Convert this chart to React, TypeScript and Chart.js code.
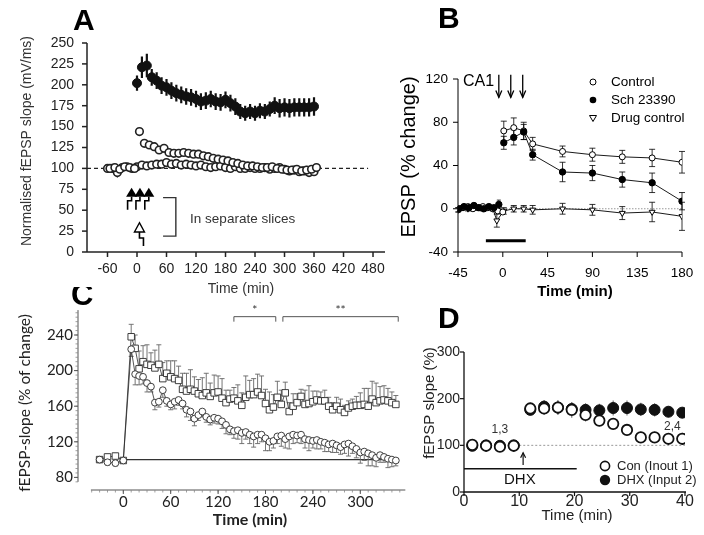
import React, { useEffect, useRef } from "react";
import { Chart, registerables } from "chart.js";

Chart.register(...registerables);

const CW = 704;
const CH = 535;
const ARIAL = "'Liberation Sans', Arial, Helvetica, sans-serif";
const LATO = "Lato, 'Open Sans', sans-serif";

// ================= Panel A data =================
const A_X_TICKS = [-60, 0, 60, 120, 180, 240, 300, 360, 420, 480];
const A_Y_TICKS = [0, 25, 50, 75, 100, 125, 150, 175, 200, 225, 250];
const A_LTP_T = [0, 10, 20, 30, 40, 50, 60, 70, 80, 90, 100, 110, 120, 130, 140, 150, 160, 170, 180, 190, 200, 210, 220, 230, 240, 250, 260, 270, 280, 290, 300, 310, 320, 330, 340, 350, 360];
const A_LTP_V = [202, 221, 223, 209, 205, 199, 197, 193, 190, 188, 186, 185, 183, 180, 181, 183, 180, 179, 182, 178, 174, 168, 166, 168, 166, 169, 168, 171, 175, 172, 173, 172, 173, 173, 173, 173, 174];
const A_LTP_E = [9, 13, 14, 10, 10, 10, 10, 10, 10, 10, 10, 10, 10, 10, 10, 10, 10, 10, 10, 10, 10, 9, 9, 9, 9, 9, 9, 9, 10, 11, 11, 11, 11, 11, 11, 11, 11];
const A_TET_T = [-55, -45, -35, -25, -15, -5, 5, 15, 25, 35, 45, 55, 65, 75, 85, 95, 105, 115, 125, 135, 145, 155, 165, 175, 185, 195, 205, 215, 225, 235, 245, 255, 265, 275, 285, 295, 305, 315, 325, 335, 345, 355, 365];
const A_TET_V = [100, 101, 99, 102, 101, 100, 144, 130, 128, 126, 122, 124, 119, 118, 118, 119, 118, 117, 117, 115, 114, 112, 111, 110, 109, 107, 106, 104, 103, 103, 102, 101, 101, 102, 100, 99, 98, 98, 99, 97, 98, 99, 101];
const A_TET_E = [3, 3, 4, 3, 3, 3, 4, 3, 3, 3, 3, 3, 3, 3, 3, 3, 3, 3, 3, 3, 3, 3, 3, 3, 3, 3, 3, 4, 3, 3, 3, 4, 3, 3, 4, 3, 4, 4, 5, 4, 5, 4, 3];
const A_CTL_T = [-60, -50, -40, -30, -20, -10, 0, 10, 20, 30, 40, 50, 60, 70, 80, 90, 100, 110, 120, 130, 140, 150, 160, 170, 180, 190, 200, 210, 220, 230, 240, 250, 260, 270, 280, 290, 300, 310, 320, 330, 340, 350, 360];
const A_CTL_V = [100, 100, 95, 101, 102, 100, 102, 104, 103, 104, 105, 105, 107, 105, 106, 104, 105, 104, 103, 104, 102, 101, 102, 103, 101, 100, 102, 100, 100, 101, 100, 100, 101, 99, 100, 101, 99, 97, 98, 96, 97, 95, 96];
const A_CTL_E = [3, 3, 6, 3, 3, 3, 3, 3, 3, 3, 3, 3, 3, 3, 3, 3, 3, 3, 3, 3, 3, 3, 3, 3, 3, 3, 4, 3, 4, 3, 4, 3, 4, 3, 4, 3, 4, 5, 4, 5, 4, 5, 4];
const A_STIM_T = [-11, 6, 24];
const A_WEAK_T = 5;

// ================= Panel B data =================
const B_X_TICKS = [-45, 0, 45, 90, 135, 180];
const B_Y_TICKS = [-40, 0, 40, 80, 120];
const B_CTL_BASE_T = [-45, -40, -35, -30, -25, -20, -15, -10, -5, 0];
const B_CTL_BASE_V = [-1, 1, 2, 0, 1, 2, 1, 0, -2, -3];
const B_CTL_BASE_E = [2, 2, 2, 2, 2, 2, 2, 2, 2, 2];
const B_CTL_POST_T = [1, 11, 21, 30, 60, 90, 120, 150, 180];
const B_CTL_POST_V = [72, 75, 72, 60, 53, 50, 48, 47, 43];
const B_CTL_POST_E = [9, 9, 8, 6, 5, 6, 6, 8, 10];
const B_SCH_BASE_T = [-44, -39, -34, -29, -24, -19, -14, -9, -4];
const B_SCH_BASE_V = [0, 2, 1, 3, 1, 0, 2, 1, 4];
const B_SCH_BASE_E = [2, 2, 2, 2, 2, 2, 2, 2, 4];
const B_SCH_POST_T = [1, 11, 21, 30, 60, 90, 120, 150, 180];
const B_SCH_POST_V = [61, 66, 71, 50, 34, 33, 27, 24, 7];
const B_SCH_POST_E = [6, 7, 7, 5, 9, 7, 7, 9, 8];
const B_DRUG_T = [-45, -40, -35, -30, -25, -20, -15, -10, -6, 1, 11, 21, 30, 60, 90, 120, 150, 180];
const B_DRUG_V = [-1, 1, 0, 2, 1, 0, 1, 0, -11, -2, 0, 0, -1, 0, -1, -4, -3, -7];
const B_DRUG_E = [2, 2, 2, 2, 2, 2, 2, 2, 6, 3, 3, 3, 4, 5, 5, 6, 9, 13];
const B_STIM_T = [-4, 8, 20];
const B_LEGEND = ["Control", "Sch 23390", "Drug control"];

// ================= Panel C data =================
const C_X_TICKS = [0, 60, 120, 180, 240, 300];
const C_Y_TICKS = [80, 120, 160, 200, 240];
const C_T = [-30, -20, -10, 0, 10, 15, 20, 25, 30, 35, 40, 45, 50, 55, 60, 65, 70, 75, 80, 85, 90, 95, 100, 105, 110, 115, 120, 125, 130, 135, 140, 145, 150, 155, 160, 165, 170, 175, 180, 185, 190, 195, 200, 205, 210, 215, 220, 225, 230, 235, 240, 245, 250, 255, 260, 265, 270, 275, 280, 285, 290, 295, 300, 305, 310, 315, 320, 325, 330, 335, 340, 345];
const C_SQ_V = [100, 103, 104, 99, 238, 225, 202, 210, 207, 206, 203, 207, 191, 197, 193, 191, 189, 179, 177, 179, 177, 174, 172, 175, 171, 175, 176, 169, 164, 168, 169, 166, 161, 170, 173, 173, 176, 172, 163, 156, 159, 170, 162, 175, 154, 160, 164, 171, 162, 163, 165, 167, 166, 166, 160, 156, 160, 156, 153, 158, 160, 161, 161, 162, 160, 168, 164, 166, 167, 166, 164, 162];
const C_SQ_E = [3, 3, 3, 3, 14, 15, 20, 18, 22, 14, 20, 22, 18, 14, 18, 20, 16, 18, 20, 22, 16, 16, 20, 22, 15, 20, 18, 22, 14, 10, 12, 18, 14, 24, 16, 18, 20, 22, 16, 20, 14, 18, 16, 12, 10, 14, 10, 8, 16, 20, 12, 10, 10, 12, 10, 8, 10, 12, 8, 8, 8, 10, 14, 18, 20, 20, 22, 16, 16, 14, 12, 10];
const C_CI_V = [100, 97, 96, 99, 224, 196, 194, 193, 186, 182, 164, 165, 178, 166, 162, 165, 167, 163, 156, 154, 146, 150, 154, 148, 145, 147, 146, 143, 139, 134, 132, 133, 130, 131, 128, 126, 128, 128, 124, 120, 121, 126, 127, 123, 126, 128, 127, 128, 123, 122, 121, 122, 120, 119, 117, 118, 116, 114, 117, 118, 115, 112, 108, 109, 107, 105, 102, 105, 103, 101, 100, 99];
const C_CI_E = [3, 3, 3, 3, 8, 12, 10, 8, 10, 6, 8, 6, 8, 6, 6, 8, 6, 6, 8, 10, 8, 6, 6, 6, 6, 6, 6, 8, 10, 6, 8, 10, 12, 8, 10, 12, 10, 8, 14, 10, 8, 8, 12, 10, 14, 10, 8, 10, 10, 12, 8, 10, 8, 10, 8, 10, 8, 8, 10, 14, 8, 10, 12, 10, 14, 12, 10, 8, 6, 10, 8, 6];
const C_SIG = [
  { from: 140, to: 193, label: "*" },
  { from: 202, to: 348, label: "**" },
];

// ================= Panel D data =================
const D_X_TICKS = [0, 10, 20, 30, 40];
const D_Y_TICKS = [0, 100, 200, 300];
const D_T = [1.5, 4, 6.5, 9, 12, 14.5, 17, 19.5, 22, 24.5, 27, 29.5, 32, 34.5, 37, 39.5];
const D_CON_V = [101, 99, 97, 99, 179, 179, 181, 176, 165, 153, 146, 133, 117, 117, 114, 114];
const D_CON_E = [5, 5, 5, 5, 12, 14, 16, 17, 14, 12, 12, 12, 12, 12, 12, 13];
const D_DHX_V = [99, 100, 99, 100, 176, 183, 181, 178, 176, 175, 180, 180, 177, 176, 172, 170];
const D_DHX_E = [5, 5, 5, 5, 12, 14, 14, 14, 14, 14, 16, 16, 14, 14, 12, 12];
const D_LEGEND = ["Con (Inout 1)", "DHX (Input 2)"];

// ================= helpers =================
type Area = { l: number; r: number; t: number; b: number };
const X = (c: any, v: number) => c.scales.x.getPixelForValue(v);
const Y = (c: any, v: number) => c.scales.y.getPixelForValue(v);
const pts = (ts: number[], vs: number[]) => ts.map((t, i) => ({ x: t, y: vs[i] }));

function poly(ctx: CanvasRenderingContext2D, p: number[][], color: string, width: number, dash: number[] = []) {
  ctx.save();
  ctx.strokeStyle = color;
  ctx.lineWidth = width;
  ctx.setLineDash(dash);
  ctx.beginPath();
  p.forEach(([x, y], i) => (i ? ctx.lineTo(x, y) : ctx.moveTo(x, y)));
  ctx.stroke();
  ctx.restore();
}

function txt(ctx: CanvasRenderingContext2D, s: string, x: number, y: number, font: string, color = "#222", align: CanvasTextAlign = "center", base: CanvasTextBaseline = "middle", rot = 0) {
  ctx.save();
  ctx.font = font;
  ctx.fillStyle = color;
  ctx.textAlign = align;
  ctx.textBaseline = base;
  ctx.translate(x, y);
  if (rot) ctx.rotate(rot);
  ctx.fillText(s, 0, 0);
  ctx.restore();
}

function errBars(c: any, ctx: CanvasRenderingContext2D, ts: number[], vs: number[], es: number[], mode: "both" | "up" | "down", cap: number, color: string, width: number) {
  ctx.save();
  ctx.strokeStyle = color;
  ctx.lineWidth = width;
  ctx.beginPath();
  for (let i = 0; i < ts.length; i++) {
    const x = X(c, ts[i]);
    const top = mode === "down" ? Y(c, vs[i]) : Y(c, vs[i] + es[i]);
    const bot = mode === "up" ? Y(c, vs[i]) : Y(c, vs[i] - es[i]);
    ctx.moveTo(x, top);
    ctx.lineTo(x, bot);
    if (cap > 0) {
      if (mode !== "down") {
        ctx.moveTo(x - cap, top);
        ctx.lineTo(x + cap, top);
      }
      if (mode !== "up") {
        ctx.moveTo(x - cap, bot);
        ctx.lineTo(x + cap, bot);
      }
    }
  }
  ctx.stroke();
  ctx.restore();
}

function scale(pos: "left" | "bottom", min: number, max: number, ticks: number[], font: any, color: string, pad: number, size: number) {
  return {
    type: "linear",
    position: pos,
    min,
    max,
    grid: { display: false, drawTicks: false },
    border: { display: false },
    ticks: {
      font,
      color,
      padding: pad,
      autoSkip: false,
      maxRotation: 0,
      minRotation: 0,
      callback: (v: any) => String(v),
    },
    afterBuildTicks: (s: any) => {
      s.ticks = ticks.map((v) => ({ value: v }));
    },
    afterFit: (s: any) => {
      if (pos === "left") s.width = size;
      else s.height = size;
      s.paddingLeft = 0;
      s.paddingRight = 0;
      s.paddingTop = 0;
      s.paddingBottom = 0;
    },
  };
}

function options(area: Area, yW: number, xH: number, xs: any, ys: any) {
  return {
    responsive: false,
    maintainAspectRatio: false,
    animation: false,
    devicePixelRatio: 1,
    events: [],
    layout: { padding: { left: area.l - yW, right: CW - area.r, top: area.t, bottom: CH - area.b - xH } },
    plugins: { legend: { display: false }, tooltip: { enabled: false }, title: { display: false } },
    scales: { x: xs, y: ys },
  } as any;
}

function hooks(id: string, before: ((c: any, ctx: CanvasRenderingContext2D) => void) | null, after: ((c: any, ctx: CanvasRenderingContext2D) => void) | null) {
  return {
    id,
    beforeDatasetsDraw(c: any) {
      if (before) {
        c.ctx.save();
        before(c, c.ctx);
        c.ctx.restore();
      }
    },
    afterDraw(c: any) {
      if (after) {
        c.ctx.save();
        after(c, c.ctx);
        c.ctx.restore();
      }
    },
  };
}

// ================= Panel A =================
function buildA(cv: HTMLCanvasElement) {
  const area = { l: 87, r: 385, t: 43, b: 252 };
  const x0 = 137;
  const k = 0.4917;
  const font = { family: ARIAL, size: 14 };
  const ink = "#222";
  const plugin = hooks(
    "panelA",
    (c, ctx) => {
      poly(ctx, [[c.chartArea.left, Y(c, 100)], [X(c, 470), Y(c, 100)]], ink, 1.2, [4, 3]);
      errBars(c, ctx, A_CTL_T, A_CTL_V, A_CTL_E, "both", 0, "#333", 1);
      errBars(c, ctx, A_TET_T, A_TET_V, A_TET_E, "both", 0, "#333", 1);
      errBars(c, ctx, A_LTP_T, A_LTP_V, A_LTP_E, "both", 0, "#111", 2.2);
    },
    (c, ctx) => {
      const ca = c.chartArea;
      poly(ctx, [[ca.left, Y(c, 250)], [ca.left, Y(c, 0)]], ink, 1.5);
      poly(ctx, [[ca.left, ca.bottom], [ca.right, ca.bottom]], ink, 1.5);
      A_Y_TICKS.forEach((v) => poly(ctx, [[ca.left - 5, Y(c, v)], [ca.left, Y(c, v)]], ink, 1.5));
      A_X_TICKS.forEach((t) => poly(ctx, [[X(c, t), ca.bottom], [X(c, t), ca.bottom + 5]], ink, 1.5));
      // stimulation arrows (strong)
      A_STIM_T.forEach((t) => {
        const x = X(c, t);
        const yt = Y(c, 77);
        const yb = Y(c, 66);
        ctx.fillStyle = "#000";
        ctx.beginPath();
        ctx.moveTo(x, yt);
        ctx.lineTo(x - 5.5, yb);
        ctx.lineTo(x + 5.5, yb);
        ctx.closePath();
        ctx.fill();
        poly(ctx, [[x, yb], [x, yb + 4], [x - 4, yb + 4], [x - 4, yb + 13]], "#000", 1.6);
      });
      // weak arrow (open)
      {
        const x = X(c, A_WEAK_T);
        const yt = Y(c, 35);
        const yb = Y(c, 24);
        ctx.strokeStyle = "#000";
        ctx.lineWidth = 1.4;
        ctx.beginPath();
        ctx.moveTo(x, yt);
        ctx.lineTo(x - 5, yb);
        ctx.lineTo(x + 5, yb);
        ctx.closePath();
        ctx.stroke();
        poly(ctx, [[x, yb], [x, yb + 6], [x + 4, yb + 6], [x + 4, yb + 14]], "#000", 1.6);
      }
      // bracket
      poly(ctx, [[X(c, 53), Y(c, 65)], [X(c, 79), Y(c, 65)], [X(c, 79), Y(c, 19)], [X(c, 53), Y(c, 19)]], "#333", 1.4);
      txt(ctx, "In separate slices", X(c, 108), Y(c, 39.5), `13.5px ${ARIAL}`, "#333", "left");
      // titles
      txt(ctx, "Normalised fEPSP slope (mV/ms)", 27, 141, `14px ${ARIAL}`, "#333", "center", "middle", -Math.PI / 2);
      txt(ctx, "Time (min)", 241, 289, `14px ${ARIAL}`, "#333");
      txt(ctx, "A", 73, 30, `bold 30px ${ARIAL}`, "#000", "left", "alphabetic");
    }
  );
  return new Chart(cv, {
    type: "scatter",
    data: {
      datasets: [
        { data: pts(A_LTP_T, A_LTP_V), pointRadius: 4.5, pointBackgroundColor: "#111", pointBorderColor: "#111", pointBorderWidth: 1, showLine: false },
        { data: pts(A_TET_T, A_TET_V), pointRadius: 3.8, pointBackgroundColor: "#fff", pointBorderColor: "#222", pointBorderWidth: 1.6, showLine: false },
        { data: pts(A_CTL_T, A_CTL_V), pointRadius: 3.8, pointBackgroundColor: "#fff", pointBorderColor: "#222", pointBorderWidth: 1.6, showLine: false },
      ],
    } as any,
    options: options(
      area,
      60,
      40,
      scale("bottom", (area.l - x0) / k, (area.r - x0) / k, A_X_TICKS, font, ink, 9, 40),
      scale("left", 0, 250, A_Y_TICKS, font, ink, 13, 60)
    ),
    plugins: [plugin],
  });
}

// ================= Panel B =================
function buildB(cv: HTMLCanvasElement) {
  const area = { l: 458, r: 682, t: 79, b: 252 };
  const ink = "#000";
  const plugin = hooks(
    "panelB",
    (c, ctx) => {
      poly(ctx, [[X(c, -45), Y(c, 0)], [X(c, 180), Y(c, 0)]], "#999", 1, [1.5, 1.5]);
      poly(ctx, [[X(c, -17), Y(c, -29.5)], [X(c, 23), Y(c, -29.5)]], "#000", 3);
      errBars(c, ctx, B_DRUG_T, B_DRUG_V, B_DRUG_E, "both", 3, "#000", 0.8);
      errBars(c, ctx, B_CTL_BASE_T, B_CTL_BASE_V, B_CTL_BASE_E, "both", 2, "#000", 0.8);
      errBars(c, ctx, B_SCH_BASE_T, B_SCH_BASE_V, B_SCH_BASE_E, "both", 2, "#000", 0.8);
      errBars(c, ctx, B_CTL_POST_T, B_CTL_POST_V, B_CTL_POST_E, "both", 3, "#000", 0.8);
      errBars(c, ctx, B_SCH_POST_T, B_SCH_POST_V, B_SCH_POST_E, "both", 3, "#000", 0.8);
    },
    (c, ctx) => {
      const ca = c.chartArea;
      poly(ctx, [[ca.left, ca.top], [ca.left, ca.bottom], [ca.right, ca.bottom]], ink, 1);
      B_Y_TICKS.forEach((v) => poly(ctx, [[ca.left - 5, Y(c, v)], [ca.left, Y(c, v)]], ink, 1));
      B_X_TICKS.forEach((t) => poly(ctx, [[X(c, t), ca.bottom], [X(c, t), ca.bottom + 5]], ink, 1));
      txt(ctx, "CA1", 463, 82, `16px ${ARIAL}`, "#000", "left");
      B_STIM_T.forEach((t) => {
        const x = X(c, t);
        const y1 = Y(c, 124);
        const y2 = Y(c, 103);
        poly(ctx, [[x, y1], [x, y2]], "#000", 1.3);
        poly(ctx, [[x - 3, y2 - 7], [x, y2], [x + 3, y2 - 7]], "#000", 1.3);
      });
      // legend
      const lx = 593;
      const rows = [82, 100, 118];
      ctx.lineWidth = 1;
      ctx.strokeStyle = "#000";
      ctx.fillStyle = "#fff";
      ctx.beginPath();
      ctx.arc(lx, rows[0], 3, 0, Math.PI * 2);
      ctx.fill();
      ctx.stroke();
      ctx.fillStyle = "#000";
      ctx.beginPath();
      ctx.arc(lx, rows[1], 3.3, 0, Math.PI * 2);
      ctx.fill();
      ctx.beginPath();
      ctx.moveTo(lx - 3.5, rows[2] - 2.5);
      ctx.lineTo(lx + 3.5, rows[2] - 2.5);
      ctx.lineTo(lx, rows[2] + 3.5);
      ctx.closePath();
      ctx.stroke();
      B_LEGEND.forEach((s, i) => txt(ctx, s, 611, rows[i], `13.5px ${ARIAL}`, "#000", "left"));
      txt(ctx, "EPSP (% change)", 409, 157, `20px ${ARIAL}`, "#000", "center", "middle", -Math.PI / 2);
      txt(ctx, "Time (min)", 575, 292, `bold 15px ${ARIAL}`, "#000");
      txt(ctx, "B", 438, 28, `bold 30px ${ARIAL}`, "#000", "left", "alphabetic");
    }
  );
  const open = { pointRadius: 3, pointBackgroundColor: "#fff", pointBorderColor: "#000", pointBorderWidth: 1, borderColor: "#000", borderWidth: 0.9, showLine: true, tension: 0 };
  const filled = { pointRadius: 3.2, pointBackgroundColor: "#000", pointBorderColor: "#000", pointBorderWidth: 1, borderColor: "#000", borderWidth: 0.9, showLine: true, tension: 0 };
  const font = { family: ARIAL, size: 13.5 };
  return new Chart(cv, {
    type: "scatter",
    data: {
      datasets: [
        { ...filled, data: pts(B_SCH_POST_T, B_SCH_POST_V) },
        { ...filled, data: pts(B_SCH_BASE_T, B_SCH_BASE_V) },
        { ...open, data: pts(B_CTL_POST_T, B_CTL_POST_V) },
        { ...open, data: pts(B_CTL_BASE_T, B_CTL_BASE_V) },
        { ...open, pointStyle: "triangle", pointRotation: 180, pointRadius: 3.4, data: pts(B_DRUG_T, B_DRUG_V) },
      ],
    } as any,
    options: options(area, 50, 45, scale("bottom", -45, 180, B_X_TICKS, font, ink, 13, 45), scale("left", -40, 120, B_Y_TICKS, font, ink, 10, 50)),
    plugins: [plugin],
  });
}

// ================= Panel C =================
function buildC(cv: HTMLCanvasElement) {
  const area = { l: 78, r: 405, t: 306, b: 490 };
  const x0 = 123.3;
  const kx = 0.79;
  const y240 = 335;
  const ky = 0.89;
  const ymax = 240 + (y240 - area.t) / ky;
  const ymin = 240 - (area.b - y240) / ky;
  const axisInk = "#555";
  const ink = "#2a2a2a";
  const plugin = hooks(
    "panelC",
    (c, ctx) => {
      poly(ctx, [[X(c, 0), Y(c, 100)], [X(c, 348), Y(c, 100)]], "#333", 1.2);
      errBars(c, ctx, C_T, C_SQ_V, C_SQ_E, "up", 2.5, "#666", 0.9);
      errBars(c, ctx, C_T, C_CI_V, C_CI_E, "down", 2.5, "#666", 0.9);
    },
    (c, ctx) => {
      const ca = c.chartArea;
      // y axis
      poly(ctx, [[ca.left, Y(c, 268)], [ca.left, Y(c, 75)]], axisInk, 1);
      for (let v = 75; v <= 265; v += 5) poly(ctx, [[ca.left - 2.5, Y(c, v)], [ca.left, Y(c, v)]], "#888", 0.8);
      C_Y_TICKS.forEach((v) => poly(ctx, [[ca.left - 4, Y(c, v)], [ca.left, Y(c, v)]], axisInk, 1));
      // x axis
      poly(ctx, [[X(c, -41), ca.bottom], [X(c, 357), ca.bottom]], axisInk, 1);
      for (let t = -40; t <= 350; t += 10) poly(ctx, [[X(c, t), ca.bottom], [X(c, t), ca.bottom + 2.5]], "#888", 0.8);
      C_X_TICKS.forEach((t) => poly(ctx, [[X(c, t), ca.bottom], [X(c, t), ca.bottom + 4]], axisInk, 1));
      // significance brackets
      C_SIG.forEach((s) => {
        const yb = Y(c, 260.6);
        poly(ctx, [[X(c, s.from), yb + 5], [X(c, s.from), yb], [X(c, s.to), yb], [X(c, s.to), yb + 5]], "#555", 1);
        txt(ctx, s.label, (X(c, s.from) + X(c, s.to)) / 2, yb - 7, `12px ${LATO}`, "#333");
      });
      txt(ctx, "fEPSP-slope (% of change)", 25, 403, `15.5px ${LATO}`, "#222", "center", "middle", -Math.PI / 2);
      txt(ctx, "Time (min)", 250, 520, `bold 16px ${LATO}`, "#222");
      ctx.save();
      ctx.beginPath();
      ctx.rect(0, 287, 200, 40);
      ctx.clip();
      txt(ctx, "C", 71, 305, `bold 31px ${ARIAL}`, "#000", "left", "alphabetic");
      ctx.restore();
    }
  );
  const font = { family: LATO, size: 15 };
  return new Chart(cv, {
    type: "scatter",
    data: {
      datasets: [
        { data: pts(C_T, C_CI_V), pointStyle: "circle", pointRadius: 3.4, pointBackgroundColor: "#fff", pointBorderColor: ink, pointBorderWidth: 0.9, borderColor: ink, borderWidth: 0.8, showLine: true, tension: 0 },
        { data: pts(C_T, C_SQ_V), pointStyle: "rect", pointRadius: 4.6, pointBackgroundColor: "#fff", pointBorderColor: ink, pointBorderWidth: 0.9, borderColor: ink, borderWidth: 0.8, showLine: true, tension: 0 },
      ],
    } as any,
    options: options(
      area,
      50,
      45,
      scale("bottom", (area.l - x0) / kx, (area.r - x0) / kx, C_X_TICKS, font, "#222", 3, 45),
      scale("left", ymin, ymax, C_Y_TICKS, font, "#222", 5, 50)
    ),
    plugins: [plugin],
  });
}

// ================= Panel D =================
function buildD(cv: HTMLCanvasElement) {
  const area = { l: 464, r: 685, t: 352, b: 492 };
  const ink = "#111";
  const plugin = hooks(
    "panelD",
    (c, ctx) => {
      poly(ctx, [[X(c, 10), Y(c, 100)], [X(c, 40), Y(c, 100)]], "#999", 1, [2, 2]);
      errBars(c, ctx, D_T, D_DHX_V, D_DHX_E, "both", 0, "#777", 1.2);
      errBars(c, ctx, D_T, D_CON_V, D_CON_E, "both", 0, "#777", 1.2);
    },
    (c, ctx) => {
      const ca = c.chartArea;
      poly(ctx, [[ca.left, ca.top], [ca.left, ca.bottom], [ca.right + 1, ca.bottom]], ink, 1.3);
      D_Y_TICKS.forEach((v) => poly(ctx, [[ca.left - 4, Y(c, v)], [ca.left, Y(c, v)]], ink, 1.2));
      D_X_TICKS.forEach((t) => poly(ctx, [[X(c, t), ca.bottom], [X(c, t), ca.bottom + 4]], ink, 1.2));
      // DHX bar and label
      poly(ctx, [[X(c, 0), Y(c, 50)], [X(c, 20.4), Y(c, 50)]], "#111", 1.5);
      txt(ctx, "DHX", X(c, 10.1), Y(c, 25.7), `15px ${ARIAL}`, "#111");
      // arrow
      const ax = X(c, 10.7);
      poly(ctx, [[ax, Y(c, 58)], [ax, Y(c, 84)]], "#111", 1.2);
      poly(ctx, [[ax - 2.5, Y(c, 84) + 5], [ax, Y(c, 84)], [ax + 2.5, Y(c, 84) + 5]], "#111", 1.2);
      txt(ctx, "1,3", X(c, 6.5), Y(c, 133), `12px ${ARIAL}`, "#333");
      txt(ctx, "2,4", X(c, 37.7), Y(c, 141), `12px ${ARIAL}`, "#333");
      // legend
      const lx = 605;
      const rows = [466, 480];
      ctx.lineWidth = 1.6;
      ctx.strokeStyle = "#111";
      ctx.fillStyle = "#fff";
      ctx.beginPath();
      ctx.arc(lx, rows[0], 4.6, 0, Math.PI * 2);
      ctx.fill();
      ctx.stroke();
      ctx.fillStyle = "#111";
      ctx.beginPath();
      ctx.arc(lx, rows[1], 5.2, 0, Math.PI * 2);
      ctx.fill();
      D_LEGEND.forEach((s, i) => txt(ctx, s, 617, rows[i], `13px ${ARIAL}`, "#222", "left"));
      ctx.save();
      ctx.beginPath();
      ctx.rect(422, 330, 40, 160);
      ctx.clip();
      txt(ctx, "fEPSP slope (%)", 430, 403, `15px ${ARIAL}`, "#222", "center", "middle", -Math.PI / 2);
      ctx.restore();
      txt(ctx, "Time (min)", 577, 516, `15px ${ARIAL}`, "#222");
      txt(ctx, "D", 438, 328, `bold 30px ${ARIAL}`, "#000", "left", "alphabetic");
    }
  );
  return new Chart(cv, {
    type: "scatter",
    data: {
      datasets: [
        { data: pts(D_T, D_CON_V), pointRadius: 5.2, pointBackgroundColor: "#fff", pointBorderColor: "#111", pointBorderWidth: 1.8, showLine: false },
        { data: pts(D_T, D_DHX_V), pointRadius: 5.5, pointBackgroundColor: "#111", pointBorderColor: "#111", pointBorderWidth: 1, showLine: false },
      ],
    } as any,
    options: options(
      area,
      40,
      43,
      scale("bottom", 0, 40, D_X_TICKS, { family: ARIAL, size: 16 }, "#222", 0, 43),
      scale("left", 0, 300, D_Y_TICKS, { family: ARIAL, size: 14 }, "#222", 4, 40)
    ),
    plugins: [plugin],
  });
}

function Panel({ build }: { build: (cv: HTMLCanvasElement) => Chart }) {
  const ref = useRef<HTMLCanvasElement | null>(null);
  useEffect(() => {
    if (!ref.current) return;
    const chart = build(ref.current);
    return () => chart.destroy();
  }, [build]);
  return <canvas ref={ref} width={CW} height={CH} style={{ position: "absolute", left: 0, top: 0, width: CW, height: CH }} />;
}

export default function App() {
  return (
    <div style={{ position: "absolute", left: 0, top: 0, width: CW, height: CH, background: "#fff", overflow: "hidden" }}>
      <Panel build={buildA} />
      <Panel build={buildB} />
      <Panel build={buildC} />
      <Panel build={buildD} />
    </div>
  );
}
